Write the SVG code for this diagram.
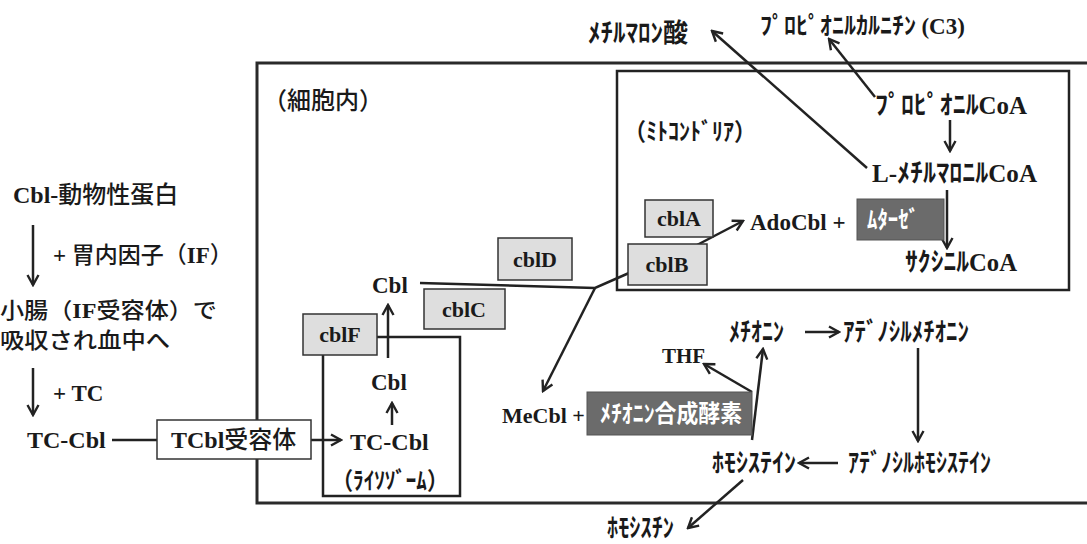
<svg xmlns="http://www.w3.org/2000/svg" width="1087" height="544" viewBox="0 0 1087 544">
<defs>
<style>
.lat{font-family:"Liberation Serif","Noto Sans CJK JP",serif;font-weight:700;fill:#1a1a1a}
.jp{font-family:"Noto Sans CJK JP",sans-serif;font-weight:700;fill:#1a1a1a}
.kj{font-family:"Noto Sans CJK JP",sans-serif;font-weight:500}
.s{font-family:"Liberation Serif",serif;font-weight:700;font-size:25px}
.wt{fill:#ffffff}
.frame{fill:none;stroke:#2a2a2a;stroke-width:3}
.mito{fill:none;stroke:#222;stroke-width:2.5}
.gbox{fill:#dedede;stroke:#333;stroke-width:1.5}
.dbox{fill:#6b6b6b;stroke:#555;stroke-width:1}
.wbox{fill:#ffffff;stroke:#333;stroke-width:1.5}
.c{fill:none;stroke:#222;stroke-width:2.5}
.ca{fill:none;stroke:#222;stroke-width:2.5;marker-end:url(#ah)}
</style>
<marker id="ah" viewBox="0 0 14 14" refX="12" refY="7" markerWidth="14" markerHeight="14" markerUnits="userSpaceOnUse" orient="auto">
<path d="M2,1.5 L12,7 L2,12.5" fill="none" stroke="#222" stroke-width="2.4"/>
</marker>
</defs>

<g id="cell">
<rect class="frame" x="257" y="63" width="860" height="440"/>
<text class="jp kj" x="263" y="109" font-size="24">（細胞内）</text>
</g>

<g id="mitochondria">
<rect class="mito" x="617" y="71" width="452" height="219"/>
<text class="jp" x="624" y="140" font-size="24" textLength="132" lengthAdjust="spacingAndGlyphs">（ﾐﾄｺﾝﾄﾞﾘｱ）</text>
</g>

<g id="lysosome">
<rect class="mito" x="323" y="337" width="137" height="159"/>
<text class="jp" x="332" y="489" font-size="24" textLength="116" lengthAdjust="spacingAndGlyphs">（ﾗｲｿｿﾞｰﾑ）</text>
</g>

<g id="connectors">
<path class="ca" d="M33,225 V285"/>
<path class="ca" d="M33,368 V415"/>
<path class="c" d="M112,440 H157"/>
<path class="ca" d="M311,440 H341"/>
<path class="ca" d="M392,425 V403"/>
<path class="ca" d="M388,358 V305"/>
<path class="c" d="M420,283 L595,288 L629,273"/>
<path class="ca" d="M595,288 L543,391"/>
<path class="ca" d="M697,245 L743,221"/>
<path class="ca" d="M950,120 V151"/>
<path class="ca" d="M947,190 V248"/>
<path class="ca" d="M867,168 L712,31"/>
<path class="ca" d="M875,97 L829,39"/>
<path class="ca" d="M752,392 L704,364"/>
<path class="ca" d="M752,440 L763,349"/>
<path class="ca" d="M805,332 H839"/>
<path class="ca" d="M918,348 V441"/>
<path class="ca" d="M838,463 H799"/>
<path class="ca" d="M743,480 L688,528"/>
</g>

<g id="n-cbl-animal"><text class="lat" x="13" y="203" font-size="24">Cbl-<tspan class="kj">動物性蛋白</tspan></text></g>
<g id="n-if"><text class="lat" x="53" y="263" font-size="23">+ <tspan class="kj">胃内因子（</tspan>IF<tspan class="kj">）</tspan></text></g>
<g id="n-intestine">
<text class="lat" x="0" y="318" font-size="22" textLength="217" lengthAdjust="spacingAndGlyphs"><tspan class="kj">小腸（</tspan>IF<tspan class="kj">受容体）で</tspan></text>
<text class="jp kj" x="0" y="348" font-size="22" textLength="170" lengthAdjust="spacingAndGlyphs">吸収され血中へ</text>
</g>
<g id="n-tc"><text class="lat" x="53" y="401" font-size="23">+ TC</text></g>
<g id="n-tccbl"><text class="lat" x="27" y="448" font-size="24">TC-Cbl</text></g>
<g id="n-receptor">
<rect class="wbox" x="157" y="420" width="154" height="39"/>
<text class="lat" x="171" y="448" font-size="24">TCbl<tspan class="kj">受容体</tspan></text>
</g>

<g id="n-tccbl-lyso"><text class="lat" x="350" y="450" font-size="24">TC-Cbl</text></g>
<g id="n-cbl-lyso"><text class="lat" x="371" y="390" font-size="23">Cbl</text></g>
<g id="n-cblF">
<rect class="gbox" x="303" y="314" width="74" height="41"/>
<text class="lat" x="340" y="342" font-size="22" text-anchor="middle">cblF</text>
</g>
<g id="n-cbl"><text class="lat" x="372" y="293" font-size="23">Cbl</text></g>
<g id="n-cblC">
<rect class="gbox" x="424" y="289" width="81" height="40"/>
<text class="lat" x="464" y="317" font-size="22" text-anchor="middle">cblC</text>
</g>
<g id="n-cblD">
<rect class="gbox" x="498" y="238" width="74" height="42"/>
<text class="lat" x="535" y="267" font-size="22" text-anchor="middle">cblD</text>
</g>
<g id="n-cblA">
<rect class="gbox" x="645" y="200" width="68" height="37"/>
<text class="lat" x="679" y="226" font-size="22" text-anchor="middle">cblA</text>
</g>
<g id="n-cblB">
<rect class="gbox" x="628" y="244" width="79" height="41"/>
<text class="lat" x="667" y="272" font-size="22" text-anchor="middle">cblB</text>
</g>
<g id="n-adocbl"><text class="lat" x="750" y="230" font-size="23">AdoCbl +</text></g>
<g id="n-mutase">
<rect class="dbox" x="857" y="199" width="87" height="41"/>
<text class="jp wt" x="867" y="228" font-size="24" textLength="52" lengthAdjust="spacingAndGlyphs">ﾑﾀｰｾﾞ</text>
</g>
<g id="n-propionylcoa"><text class="jp" x="875" y="114" font-size="26" textLength="152" lengthAdjust="spacingAndGlyphs">ﾌﾟﾛﾋﾟｵﾆﾙ<tspan class="s">CoA</tspan></text></g>
<g id="n-methylmalonylcoa"><text class="jp" x="872" y="182" font-size="26" textLength="165" lengthAdjust="spacingAndGlyphs"><tspan class="s">L-</tspan>ﾒﾁﾙﾏﾛﾆﾙ<tspan class="s">CoA</tspan></text></g>
<g id="n-succinylcoa"><text class="jp" x="905" y="271" font-size="26" textLength="112" lengthAdjust="spacingAndGlyphs">ｻｸｼﾆﾙ<tspan class="s">CoA</tspan></text></g>
<g id="n-mma"><text class="jp" x="588" y="42" font-size="26" textLength="100" lengthAdjust="spacingAndGlyphs">ﾒﾁﾙﾏﾛﾝ酸</text></g>
<g id="n-c3"><text class="jp" x="760" y="34" font-size="24">ﾌﾟﾛﾋﾟｵﾆﾙｶﾙﾆﾁﾝ <tspan class="s" style="font-size:23px">(C3)</tspan></text></g>

<g id="n-mecbl"><text class="lat" x="502" y="423" font-size="22">MeCbl +</text></g>
<g id="n-synthase">
<rect class="dbox" x="587" y="392" width="165" height="43"/>
<text class="jp wt" x="600" y="422" font-size="24" textLength="142" lengthAdjust="spacingAndGlyphs">ﾒﾁｵﾆﾝ合成酵素</text>
</g>
<g id="n-thf"><text class="lat" x="662" y="363" font-size="21">THF</text></g>
<g id="n-methionine"><text class="jp" x="729" y="341" font-size="26" textLength="55" lengthAdjust="spacingAndGlyphs">ﾒﾁｵﾆﾝ</text></g>
<g id="n-sam"><text class="jp" x="843" y="341" font-size="26" textLength="126" lengthAdjust="spacingAndGlyphs">ｱﾃﾞﾉｼﾙﾒﾁｵﾆﾝ</text></g>
<g id="n-sah"><text class="jp" x="848" y="472" font-size="26" textLength="143" lengthAdjust="spacingAndGlyphs">ｱﾃﾞﾉｼﾙﾎﾓｼｽﾃｲﾝ</text></g>
<g id="n-homocysteine"><text class="jp" x="712" y="472" font-size="26" textLength="84" lengthAdjust="spacingAndGlyphs">ﾎﾓｼｽﾃｲﾝ</text></g>
<g id="n-homocystine"><text class="jp" x="607" y="537" font-size="26" textLength="67" lengthAdjust="spacingAndGlyphs">ﾎﾓｼｽﾁﾝ</text></g>
</svg>
